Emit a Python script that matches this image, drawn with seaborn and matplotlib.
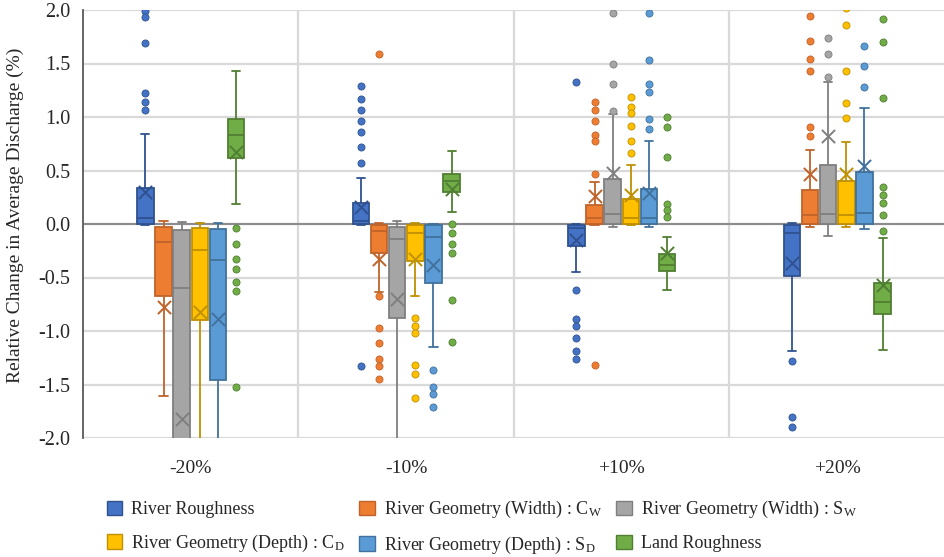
import numpy as np
import pandas as pd
import seaborn as sns
from matplotlib import pyplot as plt
from matplotlib.patches import Patch

# categories and series
scenarios = ["-20%", "-10%", "+10%", "+20%"]
series = [
    "River Roughness",
    r"River Geometry (Width) : $\mathregular{C_W}$",
    r"River Geometry (Width) : $\mathregular{S_W}$",
    r"River Geometry (Depth) : $\mathregular{C_D}$",
    r"River Geometry (Depth) : $\mathregular{S_D}$",
    "Land Roughness",
]
fill_colors = ["#4472C4", "#ED7D31", "#A5A5A5", "#FFC000", "#5B9BD5", "#70AD47"]
line_colors = ["#2F528F", "#C0632A", "#7F7F7F", "#BF9000", "#41719C", "#507E32"]

# box statistics, one row per series, one column per scenario
whisker_high = [
    [0.84, 0.43, 0.0, 0.01],
    [0.03, 0.01, 0.39, 0.69],
    [0.015, 0.03, 1.03, 1.33],
    [0.005, 0.005, 0.55, 0.77],
    [0.01, 0.0, 0.78, 1.08],
    [1.43, 0.68, -0.12, -0.13],
]
q3 = [
    [0.34, 0.20, -0.01, -0.01],
    [-0.025, -0.01, 0.18, 0.32],
    [-0.06, -0.025, 0.42, 0.55],
    [-0.04, -0.01, 0.23, 0.40],
    [-0.05, -0.01, 0.33, 0.49],
    [0.98, 0.47, -0.28, -0.55],
]
median = [
    [0.056, 0.03, -0.04, -0.08],
    [-0.17, -0.07, 0.056, 0.08],
    [-0.60, -0.14, 0.09, 0.09],
    [-0.24, -0.08, 0.056, 0.08],
    [-0.34, -0.12, 0.06, 0.10],
    [0.83, 0.40, -0.38, -0.73],
]
q1 = [
    [0.0, 0.0, -0.21, -0.49],
    [-0.67, -0.27, 0.0, 0.0],
    [-2.1, -0.88, 0.0, 0.0],
    [-0.90, -0.35, 0.0, 0.0],
    [-1.46, -0.55, 0.0, 0.0],
    [0.62, 0.30, -0.44, -0.84],
]
whisker_low = [
    [-0.01, -0.01, -0.45, -1.19],
    [-1.61, -0.64, -0.01, -0.03],
    [-2.6, -2.3, -0.03, -0.11],
    [-2.3, -0.67, -0.01, -0.03],
    [-2.4, -1.15, -0.025, -0.05],
    [0.19, 0.11, -0.62, -1.18],
]
means = [
    [0.30, 0.16, -0.15, -0.36],
    [-0.78, -0.33, 0.26, 0.47],
    [-1.82, -0.70, 0.48, 0.82],
    [-0.82, -0.33, 0.27, 0.47],
    [-0.89, -0.38, 0.29, 0.54],
    [0.67, 0.33, -0.27, -0.57],
]
outliers = [
    [[1.99, 1.93, 1.69, 1.22, 1.14, 1.07],
     [1.29, 1.17, 1.07, 0.96, 0.86, 0.72, 0.57, -1.33],
     [1.33, -0.62, -0.89, -0.95, -1.07, -1.19, -1.26],
     [-1.28, -1.80, -1.90]],
    [[],
     [1.59, -0.67, -0.97, -1.11, -1.26, -1.33, -1.45],
     [1.14, 1.07, 0.96, 0.83, 0.78, 0.47, -1.32],
     [1.94, 1.71, 1.54, 1.43, 0.91, 0.82]],
    [[], [], [1.97, 1.50, 1.31, 1.06], [1.74, 1.59, 1.37]],
    [[],
     [-0.88, -0.95, -1.02, -1.32, -1.40, -1.63],
     [1.19, 1.09, 1.04, 0.92, 0.78, 0.66],
     [2.02, 1.86, 1.43, 1.13, 0.99]],
    [[],
     [-1.36, -1.52, -1.59, -1.71],
     [1.97, 1.53, 1.31, 1.23, 0.98, 0.89],
     [1.66, 1.48, 1.28]],
    [[-0.04, -0.19, -0.33, -0.42, -0.54, -0.63, -1.52],
     [0.0, -0.08, -0.19, -0.27, -0.71, -1.10],
     [1.00, 0.91, 0.63, 0.19, 0.13, 0.065],
     [1.92, 1.70, 1.18, 0.35, 0.27, 0.20, 0.08, -0.07]],
]

sns.set_style("white")
plt.rcParams["font.family"] = ["Liberation Serif", "DejaVu Serif"]

fig = plt.figure(figsize=(9.45, 5.57), dpi=100)
ax = fig.add_axes([83 / 945, 1 - 438 / 557, 862 / 945, 428 / 557])

step = 0.0843
box_width = 0.077

for i, name in enumerate(series):
    offset = (i - 2.5) * step
    # five-number summary per scenario -> boxplot with whiskers at min/max
    rows = []
    for j in range(len(scenarios)):
        for v in (whisker_low[i][j], q1[i][j], median[i][j], q3[i][j], whisker_high[i][j]):
            rows.append((j + offset, v))
    box_df = pd.DataFrame(rows, columns=["pos", "value"])
    sns.boxplot(data=box_df, x="pos", y="value", native_scale=True,
                width=box_width, whis=(0, 100), fliersize=0, saturation=1,
                color=fill_colors[i], linecolor=line_colors[i], linewidth=1.3, ax=ax)

    out_rows = [(j + offset, v) for j in range(len(scenarios)) for v in outliers[i][j]]
    out_df = pd.DataFrame(out_rows, columns=["pos", "value"])
    sns.scatterplot(data=out_df, x="pos", y="value", color=fill_colors[i],
                    edgecolor=line_colors[i], linewidth=0.6, s=26, zorder=3, ax=ax)

    mean_df = pd.DataFrame({"pos": np.arange(len(scenarios)) + offset, "value": means[i]})
    sns.scatterplot(data=mean_df, x="pos", y="value", color=line_colors[i],
                    marker="x", s=90, linewidth=1.4, zorder=4, ax=ax)

ax.set_xlim(-0.5, len(scenarios) - 0.5)
ax.set_ylim(-2.0, 2.0)
ax.set_yticks(np.arange(-2.0, 2.01, 0.5))
ax.set_yticklabels([f"{t:.1f}" for t in np.arange(-2.0, 2.01, 0.5)], fontsize=14.5)
ax.set_xticks(range(len(scenarios)))
ax.set_xticklabels(scenarios, fontsize=14)
ax.set_xticks(np.arange(0.5, len(scenarios) - 0.5), minor=True)
ax.tick_params(axis="both", which="both", length=0)
ax.tick_params(axis="y", pad=9)
ax.tick_params(axis="x", pad=16)

ax.set_axisbelow(True)
ax.yaxis.grid(True, color="#D9D9D9", linewidth=1.6)
ax.xaxis.grid(True, which="minor", color="#D9D9D9", linewidth=1.6)
ax.xaxis.grid(False, which="major")
ax.axhline(0, color="#8C8C8C", linewidth=1.5, zorder=0.8)

for side in ["top", "right", "bottom"]:
    ax.spines[side].set_visible(False)
ax.spines["left"].set_color("#595959")
ax.spines["left"].set_linewidth(1.3)

ax.set_xlabel("")
ax.set_ylabel("Relative Change in Average Discharge (%)", fontsize=14)
ax.yaxis.set_label_coords(-0.068, 0.52)

# legend, column-first order to match the 3x2 layout
order = [0, 3, 1, 4, 2, 5]
handles = [Patch(facecolor=fill_colors[k], edgecolor=line_colors[k], linewidth=1.0) for k in order]
labels = [series[k] for k in order]
fig.legend(handles, labels, loc="upper left", bbox_to_anchor=(107 / 945, 1 - 499 / 557),
           ncol=3, frameon=False, fontsize=13, handlelength=0.85, handleheight=0.85,
           handletextpad=0.5, columnspacing=0.8, labelspacing=0.8, borderpad=0,
           borderaxespad=0)

fig.savefig("out.png", dpi=100)
